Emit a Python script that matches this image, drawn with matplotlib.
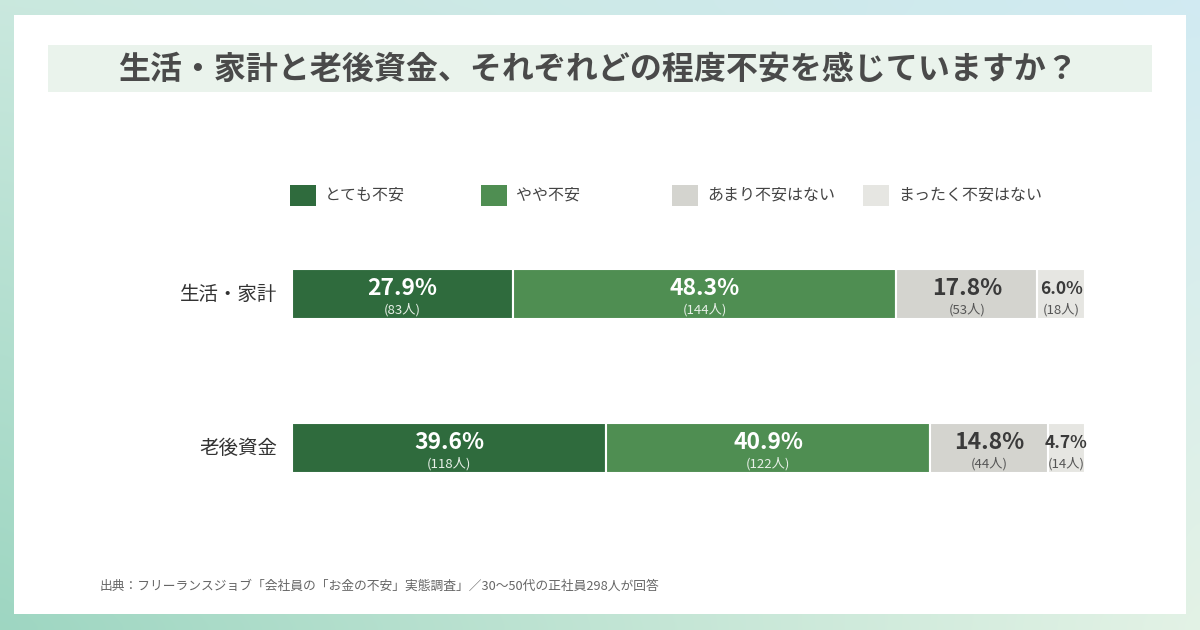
import numpy as np
import matplotlib.pyplot as plt
from matplotlib.patches import Rectangle

plt.rcParams['font.family'] = ['Noto Sans CJK JP', 'DejaVu Sans']

# data
categories = ['生活・家計', '老後資金']
series_names = ['とても不安', 'やや不安', 'あまり不安はない', 'まったく不安はない']
pct = [
    [27.9, 39.6],
    [48.3, 40.9],
    [17.8, 14.8],
    [6.0, 4.7],
]
counts = [
    [83, 118],
    [144, 122],
    [53, 44],
    [18, 14],
]
colors = ['#2f6b3d', '#4f8e52', '#d4d4cf', '#e6e6e2']
text_colors = ['white', 'white', '#3a3a3a', '#3a3a3a']
count_colors = ['#e8f0e8', '#e8f0e8', '#555555', '#555555']

title = '生活・家計と老後資金、それぞれどの程度不安を感じていますか？'
source = '出典：フリーランスジョブ「会社員の「お金の不安」実態調査」／30～50代の正社員298人が回答'

W, H = 1200, 630
fig = plt.figure(figsize=(W / 100, H / 100), dpi=100)


def px(x, y):
    """ pixel (from top-left) -> figure fraction """
    return x / W, 1 - y / H


# background gradient
bg = fig.add_axes([0, 0, 1, 1])
bg.set_axis_off()
corners = np.array([
    [[0.79, 0.91, 0.87], [0.82, 0.92, 0.95]],
    [[0.62, 0.84, 0.76], [0.89, 0.95, 0.90]],
])
ny, nx = 63, 120
ty = np.linspace(0, 1, ny)[:, None, None]
tx = np.linspace(0, 1, nx)[None, :, None]
grad = ((1 - ty) * ((1 - tx) * corners[0, 0] + tx * corners[0, 1])
        + ty * ((1 - tx) * corners[1, 0] + tx * corners[1, 1]))
bg.imshow(grad, extent=[0, 1, 0, 1], aspect='auto', interpolation='bicubic')
bg.set_xlim(0, 1)
bg.set_ylim(0, 1)

# white panel
x0, y0 = px(14, 614)
bg.add_patch(Rectangle((x0, y0), (1186 - 14) / W, (614 - 15) / H,
                       facecolor='white', edgecolor='none'))
# title band
x0, y0 = px(48, 92)
bg.add_patch(Rectangle((x0, y0), (1152 - 48) / W, (92 - 45) / H,
                       facecolor='#eaf3ec', edgecolor='none'))
fig.text(*px(598, 70), title, ha='center', va='center', fontsize=23,
         fontweight='bold', color='#4a4a4a')

# legend
leg_x = [290, 481, 672, 863]
for i, name in enumerate(series_names):
    lx, ly = px(leg_x[i], 206)
    bg.add_patch(Rectangle((lx, ly), 26 / W, 21 / H,
                           facecolor=colors[i], edgecolor='none'))
    fig.text(*px(leg_x[i] + 35, 195), name, ha='left', va='center',
             fontsize=11.5, color='#444444')

# bars
ax = fig.add_axes([292 / W, 1 - 498 / H, (1085 - 292) / W, (498 - 244) / H])
ax.set_xlim(0, 100)
ax.set_ylim(1 + 50 / 154, -50 / 154)
ax.set_axis_off()
y = np.arange(len(categories))
bar_h = 50 / 154
left = np.zeros(len(categories))
for i in range(len(series_names)):
    vals = np.array(pct[i])
    ax.barh(y, vals, left=left, height=bar_h, color=colors[i],
            edgecolor='white', linewidth=1.5)
    for j in range(len(categories)):
        cx = left[j] + vals[j] / 2
        big = vals[j] > 10
        ax.text(cx, y[j] - 0.035, f'{vals[j]:.1f}%', ha='center', va='center',
                fontsize=16.5 if big else 12.5, fontweight='bold',
                color=text_colors[i])
        ax.text(cx, y[j] + 0.1, f'({counts[i][j]}人)', ha='center',
                va='center', fontsize=9.5, color=count_colors[i])
    left += vals

for j, cat in enumerate(categories):
    ax.text(-1.9, y[j], cat, ha='right', va='center', fontsize=14,
            color='#333333')

# source
fig.text(*px(100, 586), source, ha='left', va='center', fontsize=9.2,
         color='#666666')

fig.savefig('out.png', dpi=100)
